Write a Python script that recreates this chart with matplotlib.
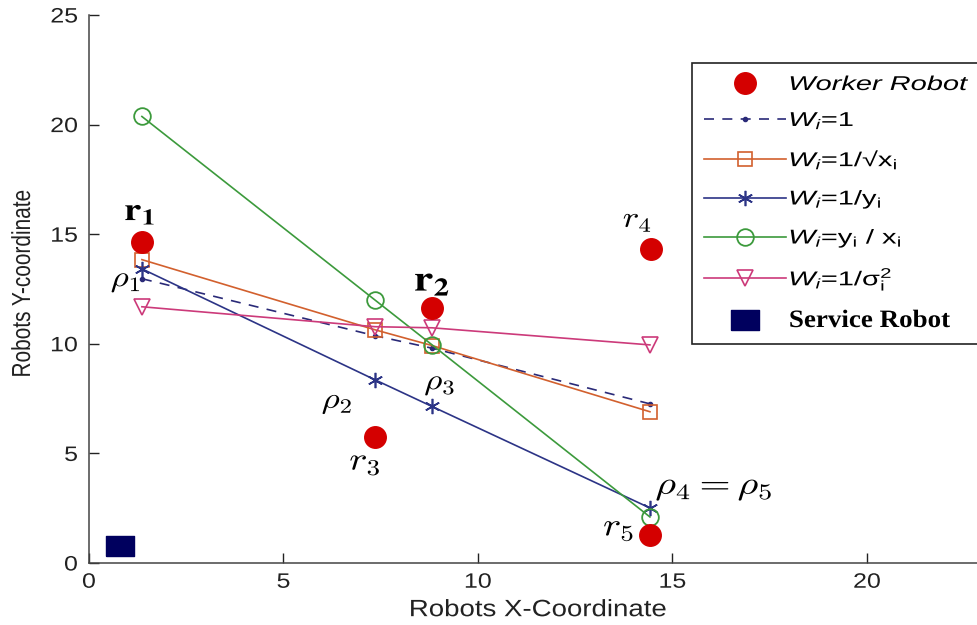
import matplotlib
matplotlib.use("Agg")
import matplotlib.pyplot as plt
from matplotlib.patheffects import AbstractPathEffect
from matplotlib.transforms import Affine2D

# Robot positions
worker_x = [1.36, 8.82, 7.35, 14.45, 14.42]
worker_y = [14.66, 11.64, 5.75, 14.34, 1.28]
service_x = [0.8]
service_y = [0.78]

# Estimated rendezvous points for each weighting scheme
est_x = [1.36, 7.35, 8.82, 14.42]
w_unit = [12.97, 10.37, 9.80, 7.26]
w_sqrt = [13.84, 10.64, 9.92, 6.90]
w_invy = [13.42, 8.36, 7.14, 2.51]
w_yx = [20.37, 12.00, 9.95, 2.10]
w_sigma = [11.69, 10.78, 10.73, 9.95]

x_ticks = [0, 5, 10, 15, 20]
y_ticks = [0, 5, 10, 15, 20, 25]


class Stretch(AbstractPathEffect):
    """Widen rendered text horizontally about a chosen anchor."""

    def __init__(self, sx=1.2, anchor="center"):
        super().__init__()
        self.sx = sx
        self.anchor = anchor

    def draw_path(self, renderer, gc, tpath, affine, rgbFace=None):
        ext = tpath.get_extents(affine)
        if self.anchor == "left":
            cx = ext.x0
        elif self.anchor == "right":
            cx = ext.x1
        else:
            cx = 0.5 * (ext.x0 + ext.x1)
        t = affine + Affine2D().translate(-cx, 0).scale(self.sx, 1).translate(cx, 0)
        renderer.draw_path(gc, tpath, t, rgbFace)


plt.rcParams["font.family"] = ["Liberation Sans", "DejaVu Sans"]
plt.rcParams["mathtext.fontset"] = "custom"
plt.rcParams["mathtext.rm"] = "Liberation Sans"
plt.rcParams["mathtext.it"] = "Liberation Sans:italic"
plt.rcParams["mathtext.bf"] = "Liberation Sans:bold"

fig = plt.figure(figsize=(9.78, 6.25), dpi=100)
ax = fig.add_axes([89 / 978, 62 / 625, 1 - 89 / 978, 548 / 625])

RED = "#d40000"
NAVY = "#2a2a78"
ORANGE = "#d2602e"
BLUE = "#2c3486"
GREEN = "#3c9a3c"
PINK = "#cc3a7a"
SERVICE = "#00005e"

rect = [(-1.35, -1), (1.35, -1), (1.35, 1), (-1.35, 1), (-1.35, -1)]
star = (6, 2, 0)

h_worker = ax.plot(worker_x, worker_y, "o", color=RED, markersize=15.5,
                   zorder=3, label="Worker Robot")[0]
h_unit = ax.plot(est_x, w_unit, linestyle=(0, (6, 5)), color=NAVY, lw=1.2,
                 marker="o", markersize=3, label=r"$W_i$=1")[0]
h_sqrt = ax.plot(est_x, w_sqrt, "-", color=ORANGE, lw=1.2, marker="s",
                 markersize=10, markerfacecolor="none", markeredgewidth=1.2,
                 label=r"$W_i$=1/√x$_\mathrm{i}$")[0]
h_invy = ax.plot(est_x, w_invy, "-", color=BLUE, lw=1.2, marker=star,
                 markersize=11, markeredgewidth=1.2,
                 label=r"$W_i$=1/y$_\mathrm{i}$")[0]
h_yx = ax.plot(est_x, w_yx, "-", color=GREEN, lw=1.2, marker="o",
               markersize=12, markerfacecolor="none", markeredgewidth=1.3,
               label=r"$W_i$=y$_\mathrm{i}$ / x$_\mathrm{i}$")[0]
h_sigma = ax.plot(est_x, w_sigma, "-", color=PINK, lw=1.2, marker="v",
                  markersize=12, markerfacecolor="none", markeredgewidth=1.2,
                  label=r"$W_i$=1/σ$_\mathrm{i}^2$")[0]
h_service = ax.plot(service_x, service_y, linestyle="none", marker=rect,
                    markersize=20, color=SERVICE, label="Service Robot")[0]

ax.set_xlim(0, (978 - 89) / 38.9)
ax.set_ylim(0, 25)
ax.set_xticks(x_ticks)
ax.set_yticks(y_ticks)
ax.tick_params(direction="in", length=7, width=1, labelsize=15, colors="#222222")
ax.tick_params(axis="x", pad=7)
ax.tick_params(axis="y", pad=8)
for side in ("top", "right"):
    ax.spines[side].set_visible(False)
for side in ("left", "bottom"):
    ax.spines[side].set_color("#444444")
    ax.spines[side].set_linewidth(1.1)

for t in ax.get_xticklabels():
    t.set_path_effects([Stretch(1.2, "center")])
for t in ax.get_yticklabels():
    t.set_path_effects([Stretch(1.2, "right")])

xl = ax.set_xlabel("Robots X-Coordinate", fontsize=17, color="#222222")
ax.xaxis.set_label_coords(0.505, -0.066)
xl.set_path_effects([Stretch(1.17)])
yl = ax.set_ylabel("Robots Y-coordinate", fontsize=15, color="#222222")
ax.yaxis.set_label_coords(-0.064, 0.51)
yl.set_path_effects([Stretch(1.25)])


# Robot and estimate labels
def note(x, y, s, size=21, fam="cm", sx=1.2):
    t = ax.text(x, y, s, fontsize=size, ha="center", va="center",
                math_fontfamily=fam, zorder=5)
    t.set_path_effects([Stretch(sx)])


note(1.31, 16.0, r"$\mathbf{r_1}$", size=23, fam="stix")
note(0.95, 12.9, r"$\rho_1$")
note(8.82, 12.85, r"$\mathbf{r_2}$", size=26, fam="stix")
note(6.38, 7.35, r"$\rho_2$")
note(9.02, 8.2, r"$\rho_3$")
note(7.1, 4.6, r"$r_3$", size=23)
note(14.1, 15.65, r"$r_4$", size=21)
note(16.07, 3.45, r"$\rho_4 = \rho_5$", size=23, sx=1.25)
note(13.62, 1.6, r"$r_5$", size=23)

handles = [h_worker, h_unit, h_sqrt, h_invy, h_yx, h_sigma, h_service]
leg = fig.legend(handles=handles, labels=[h.get_label() for h in handles],
                 loc="upper left",
                 bbox_to_anchor=(692 / 978, 1 - 345 / 625, 0.36, 282 / 625),
                 mode="expand", borderaxespad=0,
                 fontsize=14.4, numpoints=1, handlelength=4.1, handletextpad=0.15,
                 labelspacing=0.8, borderpad=0.6, fancybox=False,
                 edgecolor="#222222", framealpha=1)
leg.get_frame().set_linewidth(1.2)
texts = leg.get_texts()
texts[0].set_style("italic")
texts[6].set_family("Liberation Serif")
texts[6].set_weight("bold")
texts[6].set_fontsize(18)
for t in texts[:6]:
    t.set_path_effects([Stretch(1.45, "left")])
texts[6].set_path_effects([Stretch(1.08, "left")])

fig.savefig("out.png", dpi=100, facecolor="white")
